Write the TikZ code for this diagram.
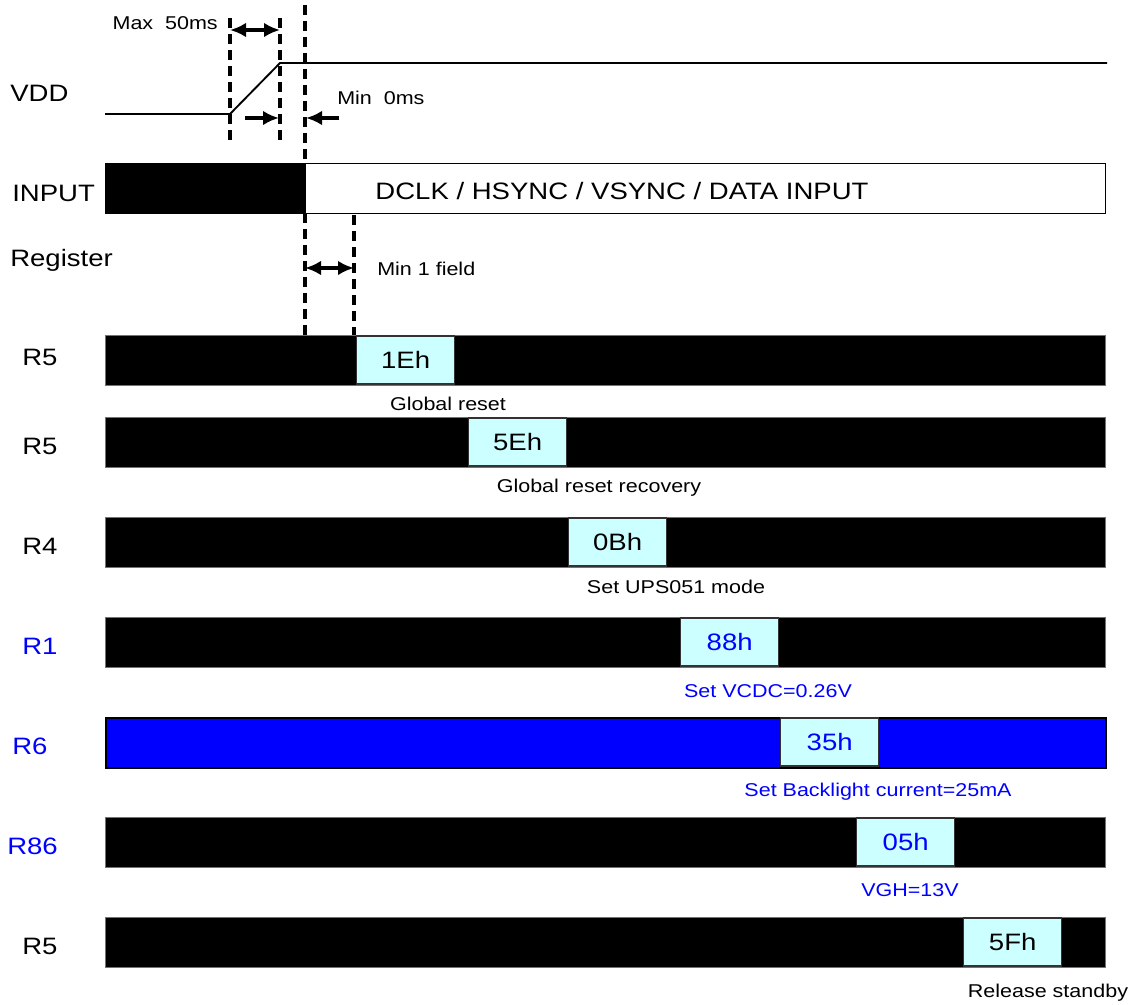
\documentclass[tikz,border=0pt]{standalone}
\usepackage{fontspec}
\setmainfont[FakeStretch=1.16]{Liberation Sans}
\usetikzlibrary{arrows.meta}
\definecolor{boxcyan}{RGB}{204,255,255}
\definecolor{regblue}{RGB}{0,0,255}
\begin{document}
\begin{tikzpicture}[x=0.75pt,y=-0.75pt,
  big/.style={font=\fontsize{17.8}{20}\selectfont, inner sep=0},
  small/.style={font=\fontsize{13.9}{16}\selectfont, inner sep=0},
  bar/.style={fill=black, draw=black!55, line width=0.8pt, minimum width=750pt, minimum height=37.5pt, inner sep=0, anchor=north west},
  bluebar/.style={bar, fill=regblue, draw=black, line width=1.2pt},
  val/.style={fill=boxcyan, draw=black!80, line width=1pt, minimum width=73.5pt, minimum height=36pt, inner sep=0, anchor=west, font=\fontsize{17.8}{20}\selectfont},
  guide/.style={line width=2.6pt, dash pattern=on 7.5pt off 4.5pt},
  dimone/.style={line width=2.6pt, -{Latex[length=12pt,width=11pt]}},
  dimtwo/.style={line width=2.6pt, {Latex[length=12pt,width=11pt]}-{Latex[length=12pt,width=11pt]}},
  wave/.style={line width=1.4pt}]
\useasboundingbox (0,0) rectangle (1139,1004);

% guide lines
\coordinate (g1t) at (230,18);  \coordinate (g1b) at (230,142);
\coordinate (g2t) at (280,18);  \coordinate (g2b) at (280,142);
\coordinate (g3t) at (305,5);   \coordinate (g3b) at (305,335);
\coordinate (g4t) at (354,215); \coordinate (g4b) at (354,335);
\draw[guide] (g1t) -- (g1b);
\draw[guide] (g2t) -- (g2b);
\draw[guide] (g3t) -- (g3b);
\draw[guide] (g4t) -- (g4b);

% VDD waveform
\coordinate (v0) at (105,114);
\coordinate (v1) at (230,114);
\coordinate (v2) at (280,63);
\coordinate (v3) at (1107,63);
\draw[wave] (v0) -- (v1) -- (v2) -- (v3);

% dimension arrows
\coordinate (m1) at (230,30); \coordinate (m2) at (280,30);
\draw[dimtwo] (m1) -- (m2);
\node[small, anchor=east] (maxlbl) at (218,23) {Max\ \ 50ms};

\coordinate (a1s) at (245,118); \coordinate (a1e) at (279,118);
\coordinate (a2s) at (339,118); \coordinate (a2e) at (306,118);
\draw[dimone] (a1s) -- (a1e);
\draw[dimone] (a2s) -- (a2e);
\node[small, anchor=west] (minlbl) at (337,98) {Min\ \ 0ms};

% labels
\node[big, anchor=west] (lvdd) at (10,93) {VDD};
\node[big, anchor=west] (linput) at (12,193) {INPUT};
\node[big, anchor=west] (lreg) at (10,260) {Register};

% input
\node[fill=black, draw=black, minimum width=150pt, minimum height=37.5pt, inner sep=0, anchor=north west] (inblk) at (105,163) {};
\node[fill=white, draw=black, line width=1pt, minimum width=600pt, minimum height=37.5pt, inner sep=0, anchor=north west] (inwht) at (305,163) {};
\node[big] (intext) at (622,191) {DCLK / HSYNC / VSYNC / DATA INPUT};

% min 1 field
\coordinate (f1) at (305,268); \coordinate (f2) at (354,268);
\draw[dimtwo] (f1) -- (f2);
\node[small, anchor=west] (fieldlbl) at (377,269) {Min 1 field};

% register rows
\node[bar] (b1) at (105,335) {};
\node[val] (x1) at (356,360) {1Eh};
\node[small] (t1) at (448,404) {Global reset};
\node[big, anchor=west] (r1) at (22,357) {R5};

\node[bar] (b2) at (105,417) {};
\node[val] (x2) at (468,442) {5Eh};
\node[small] (t2) at (599,488) {Global reset recovery};
\node[big, anchor=west] (r2) at (22,446) {R5};

\node[bar] (b3) at (105,517) {};
\node[val] (x3) at (568,542) {0Bh};
\node[small] (t3) at (676,587) {Set UPS051 mode};
\node[big, anchor=west] (r3) at (22,546) {R4};

\node[bar] (b4) at (105,617) {};
\node[val, text=regblue] (x4) at (680,642) {88h};
\node[small, text=regblue] (t4) at (768,691) {Set VCDC=0.26V};
\node[big, anchor=west, text=regblue] (r4) at (22,646) {R1};

\node[bluebar] (b5) at (105,717) {};
\node[val, text=regblue] (x5) at (780,742) {35h};
\node[small, text=regblue] (t5) at (878,792) {Set Backlight current=25mA};
\node[big, anchor=west, text=regblue] (r5) at (12,746) {R6};

\node[bar] (b6) at (105,817) {};
\node[val, text=regblue] (x6) at (856,842) {05h};
\node[small, text=regblue] (t6) at (910,890) {VGH=13V};
\node[big, anchor=west, text=regblue] (r6) at (7,846) {R86};

\node[bar] (b7) at (105,917) {};
\node[val] (x7) at (963,942) {5Fh};
\node[small] (t7) at (1048,993) {Release standby};
\node[big, anchor=west] (r7) at (22,946) {R5};
\end{tikzpicture}
\end{document}
